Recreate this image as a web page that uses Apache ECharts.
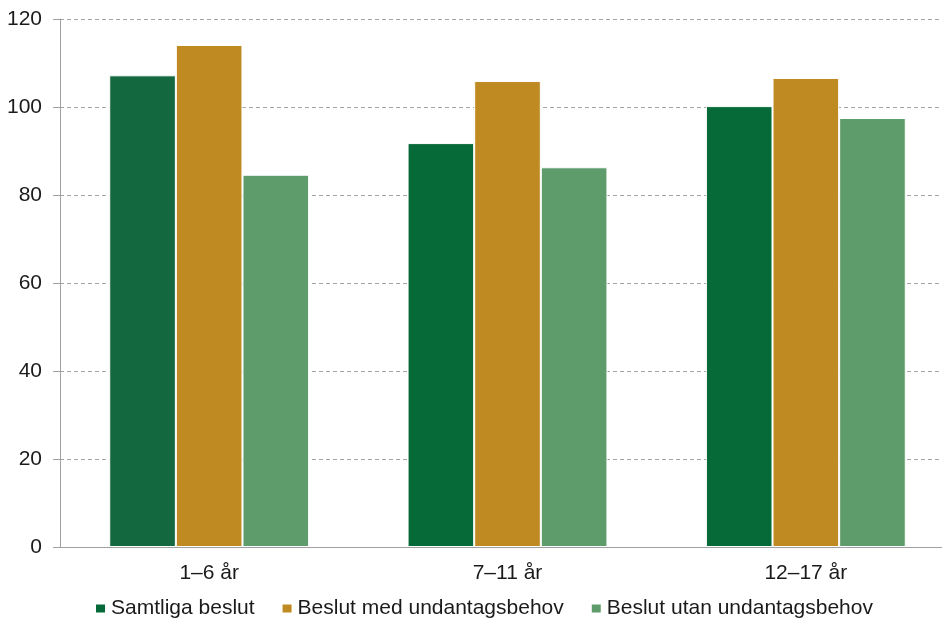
<!DOCTYPE html>
<html><head><meta charset="utf-8">
<script src="https://cdn.jsdelivr.net/npm/echarts@6/dist/echarts.min.js"></script>
<style>html,body{margin:0;padding:0;background:#fff;overflow:hidden}#c{width:942px;height:625px}</style>
</head><body><div id="c"></div>
<script>
const categories = ['1–6 år', '7–11 år', '12–17 år'];
const seriesNames = ['Samtliga beslut', 'Beslut med undantagsbehov', 'Beslut utan undantagsbehov'];
const samtliga = [107.2, 91.8, 100.2];
const med = [114.1, 105.9, 106.6];
const utan = [84.6, 86.3, 97.5];
const colors = ['#066a38', '#c08a22', '#5f9c6c'];

const chart = echarts.init(document.getElementById('c'), null, {renderer: 'canvas'});
const font = 'Liberation Sans, Arial, sans-serif';
function mk(name, data, color) {
  return {
    name, type: 'bar', data, barGap: '0%', barCategoryGap: '33%',
    itemStyle: {color, borderColor: '#ffffff', borderWidth: 1},
  };
}
const s0 = mk(seriesNames[0], samtliga.map((v, i) => i === 0 ? {value: v, itemStyle: {color: '#14683f'}} : v), colors[0]);
chart.setOption({
  animation: false,
  color: colors,
  textStyle: {fontFamily: font},
  grid: {left: 60, width: 895, top: 19, bottom: 78, containLabel: false, outerBoundsMode: 'none'},
  legend: {
    bottom: 1, left: 89, itemWidth: 11, itemHeight: 10, itemGap: 26, icon: 'rect',
    textStyle: {fontSize: 21, color: '#1a1a1a', fontFamily: font},
    data: seriesNames
  },
  xAxis: {
    type: 'category', data: categories,
    axisLine: {lineStyle: {color: '#a0a0a0', width: 1}},
    axisTick: {show: false},
    axisLabel: {fontSize: 21, color: '#1a1a1a', margin: 16, fontFamily: font}
  },
  yAxis: {
    type: 'value', min: 0, max: 120, interval: 20,
    axisLine: {show: true, lineStyle: {color: '#a0a0a0'}},
    axisTick: {show: true, length: 7, lineStyle: {color: '#a0a0a0'}},
    axisLabel: {fontSize: 21, color: '#1a1a1a', margin: 18, fontFamily: font},
    splitLine: {lineStyle: {color: '#a6a6a6', type: [4, 3]}}
  },
  series: [s0, mk(seriesNames[1], med, colors[1]), mk(seriesNames[2], utan, colors[2])]
});
</script></body></html>
